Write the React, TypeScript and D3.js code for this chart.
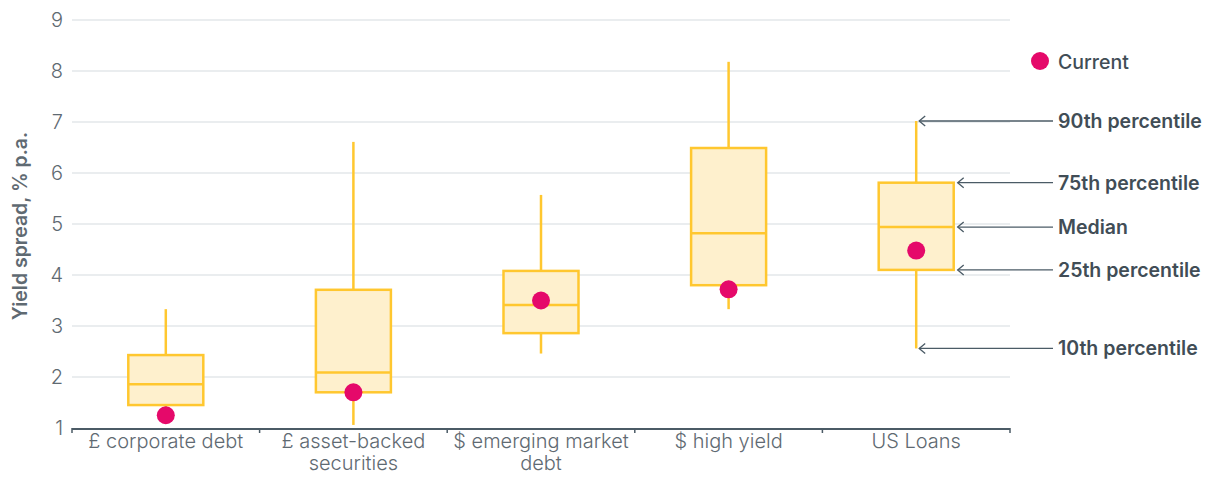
import React from "react";
import * as d3 from "d3";

const categories = [
  ["£ corporate debt"],
  ["£ asset-backed", "securities"],
  ["$ emerging market", "debt"],
  ["$ high yield"],
  ["US Loans"],
];
const p10 = [1.3, 1.06, 2.46, 3.33, 2.56];
const p25 = [1.45, 1.7, 2.86, 3.8, 4.1];
const median = [1.86, 2.09, 3.41, 4.82, 4.94];
const p75 = [2.43, 3.71, 4.08, 6.49, 5.81];
const p90 = [3.33, 6.61, 5.57, 8.18, 7.02];
const current = [1.25, 1.7, 3.5, 3.72, 4.48];
const yTicks = [1, 2, 3, 4, 5, 6, 7, 8, 9];

const W = 1208;
const H = 477;
const left = 72;
const right = 1010;
const top = 20;
const bottom = 428;

const GOLD = "#FFC72F";
const FILL = "#FEF0CD";
const PINK = "#E5096A";
const AXIS = "#4B5B66";
const GRID = "#E3E7EA";
const TEXT = "#5F6A72";
const LABEL = "#414D56";
const FONT = "Inter, 'Noto Sans', sans-serif";

export default function App() {
  const idx = categories.map((_, i) => String(i));
  const x = d3.scaleBand().domain(idx).range([left, right]).padding(0);
  const y = d3.scaleLinear().domain([1, 9]).range([bottom, top]);
  const boxW = 75;
  const bw = x.bandwidth();
  const cx = (i: number) => (x(String(i)) as number) + bw / 2;

  // annotation for the last box
  const last = categories.length - 1;
  const lc = cx(last);
  const annotations = [
    { v: p90[last], label: "90th percentile", tip: lc + 3 },
    { v: p75[last], label: "75th percentile", tip: lc + boxW / 2 + 4 },
    { v: median[last], label: "Median", tip: lc + boxW / 2 + 4 },
    { v: p25[last], label: "25th percentile", tip: lc + boxW / 2 + 4 },
    { v: p10[last], label: "10th percentile", tip: lc + 3 },
  ];
  const lineEnd = 1053;
  const textX = 1058;

  return (
    <svg width={W} height={H} style={{ position: "absolute", left: 0, top: 0, fontFamily: FONT }}>
      <rect width={W} height={H} fill="#fff" />
      {yTicks.slice(1).map((t) => (
        <line key={t} x1={left} x2={right} y1={y(t)} y2={y(t)} stroke={GRID} strokeWidth={1.5} />
      ))}
      {yTicks.map((t) => (
        <text key={t} x={63} y={y(t)} dy="0.36em" textAnchor="end" fontSize={20} fontWeight={300} fill={TEXT}>
          {t}
        </text>
      ))}
      <text
        transform={`translate(27,${(top + bottom) / 2 + 2}) rotate(-90)`}
        textAnchor="middle"
        fontSize={19.5}
        fontWeight={600}
        fill={TEXT}
      >
        Yield spread, % p.a.
      </text>

      {/* x axis */}
      <line x1={left} x2={right} y1={bottom + 1} y2={bottom + 1} stroke={AXIS} strokeWidth={2} />
      {[...idx.map((d) => x(d) as number), right].map((tx, i) => (
        <line key={i} x1={tx} x2={tx} y1={bottom} y2={bottom + 5} stroke={AXIS} strokeWidth={1.5} />
      ))}
      {categories.map((lines, i) => (
        <text key={i} x={cx(i)} y={448} textAnchor="middle" fontSize={20} fontWeight={300} fill={TEXT}>
          {lines.map((l, j) => (
            <tspan key={j} x={cx(i)} dy={j === 0 ? 0 : 22}>
              {l}
            </tspan>
          ))}
        </text>
      ))}

      {/* boxes */}
      {categories.map((_, i) => {
        const c = cx(i);
        return (
          <g key={i}>
            <line x1={c} x2={c} y1={y(p90[i])} y2={y(p75[i])} stroke={GOLD} strokeWidth={2.5} />
            <line x1={c} x2={c} y1={y(p25[i])} y2={y(p10[i])} stroke={GOLD} strokeWidth={2.5} />
            <rect
              x={c - boxW / 2}
              y={y(p75[i])}
              width={boxW}
              height={y(p25[i]) - y(p75[i])}
              fill={FILL}
              stroke={GOLD}
              strokeWidth={2.5}
            />
            <line x1={c - boxW / 2} x2={c + boxW / 2} y1={y(median[i])} y2={y(median[i])} stroke={GOLD} strokeWidth={2.5} />
            <circle cx={c} cy={y(current[i])} r={9} fill={PINK} />
          </g>
        );
      })}

      {/* legend */}
      <circle cx={1040} cy={61} r={9} fill={PINK} />
      <text x={textX} y={62} dy="0.36em" fontSize={19.5} fontWeight={500} fill={LABEL}>
        Current
      </text>

      {/* annotations */}
      {annotations.map((a, i) => {
        const yy = y(a.v);
        return (
          <g key={i}>
            <line x1={a.tip} x2={lineEnd} y1={yy} y2={yy} stroke={AXIS} strokeWidth={1.3} />
            <path
              d={`M${a.tip + 6},${yy - 5} L${a.tip},${yy} L${a.tip + 6},${yy + 5}`}
              fill="none"
              stroke={AXIS}
              strokeWidth={1.3}
            />
            <text x={textX} y={yy} dy="0.36em" fontSize={19.5} fontWeight={600} fill={LABEL}>
              {a.label}
            </text>
          </g>
        );
      })}
    </svg>
  );
}
